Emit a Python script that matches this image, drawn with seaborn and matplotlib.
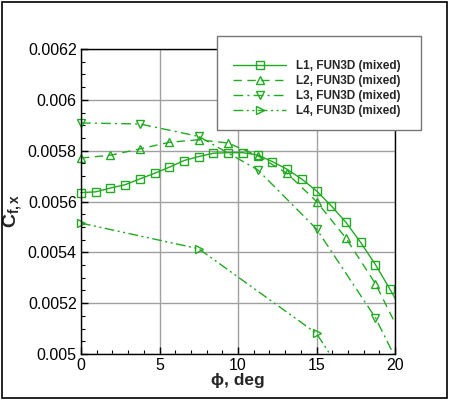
import numpy as np
import pandas as pd
import matplotlib
matplotlib.use("Agg")
import matplotlib.pyplot as plt
from matplotlib.patches import Rectangle
from matplotlib.ticker import FixedLocator, MultipleLocator
import seaborn as sns

# ---------------- data ----------------
series_names = ["L1, FUN3D (mixed)", "L2, FUN3D (mixed)",
                "L3, FUN3D (mixed)", "L4, FUN3D (mixed)"]

l1_phi = [0.0, 0.9375, 1.875, 2.8125, 3.75, 4.6875, 5.625, 6.5625, 7.5, 8.4375,
          9.375, 10.3125, 11.25, 12.1875, 13.125, 14.0625, 15.0, 15.9375, 16.875,
          17.8125, 18.75, 19.6875, 20.625]
l1_cf = [0.005635, 0.005638, 0.005653, 0.005666, 0.005689, 0.005711, 0.005735,
         0.005761, 0.005777, 0.005790, 0.005792, 0.005792, 0.005783, 0.005757,
         0.005727, 0.005688, 0.005642, 0.005583, 0.005518, 0.005439, 0.005352,
         0.005254, 0.005151]

l2_phi = [0.0, 1.875, 3.75, 5.625, 7.5, 9.375, 11.25, 13.125, 15.0, 16.875,
          18.75, 20.625]
l2_cf = [0.005771, 0.005782, 0.005807, 0.005833, 0.005843, 0.005830, 0.005780,
         0.005711, 0.005600, 0.005456, 0.005277, 0.005045]

l3_phi = [0.0, 3.75, 7.5, 11.25, 15.0, 18.75, 20.625]
l3_cf = [0.005909, 0.005905, 0.005856, 0.005725, 0.005492, 0.005143, 0.004910]

l4_phi = [0.0, 7.5, 15.0, 22.5]
l4_cf = [0.005515, 0.005414, 0.005081, 0.004366]

x_ticks = [0, 5, 10, 15, 20]
x_ticklabels = ["0", "5", "10", "15", "20"]
y_ticks = [0.005, 0.0052, 0.0054, 0.0056, 0.0058, 0.006, 0.0062]
y_ticklabels = ["0.005", "0.0052", "0.0054", "0.0056", "0.0058", "0.006", "0.0062"]

# ---------------- styling ----------------
green = "#22aa22"
markers = {series_names[0]: "s", series_names[1]: "^",
           series_names[2]: "v", series_names[3]: ">"}
dashes = {series_names[0]: "",
          series_names[1]: (6, 4),
          series_names[2]: (7, 3, 1.5, 3),
          series_names[3]: (7, 2.5, 1.5, 2.5, 1.5, 2.5)}

frames = []
for name, xs, ys in zip(series_names, [l1_phi, l2_phi, l3_phi, l4_phi],
                        [l1_cf, l2_cf, l3_cf, l4_cf]):
    frames.append(pd.DataFrame({"phi": xs, "cf": ys, "series": name}))
df = pd.concat(frames, ignore_index=True)

sns.set_theme(style="white")
plt.rcParams["font.family"] = ["Liberation Sans", "DejaVu Sans"]
plt.rcParams["mathtext.fontset"] = "custom"
plt.rcParams["mathtext.rm"] = "Liberation Sans"
plt.rcParams["mathtext.bf"] = "Liberation Sans:bold"
plt.rcParams["mathtext.it"] = "Liberation Sans:italic"

fig = plt.figure(figsize=(4.5, 4.0), dpi=100)
ax = fig.add_axes([81 / 450, 1 - 354 / 400, 314 / 450, 305 / 400])

sns.lineplot(data=df, x="phi", y="cf", style="series", style_order=series_names,
             markers=markers, dashes=dashes, color=green, linewidth=1.0,
             markersize=5.5, markerfacecolor="none", markeredgecolor=green,
             markeredgewidth=1.0, legend=False, ax=ax, estimator=None, sort=False)

clip_rect = Rectangle((-0.05, 0.0), 1.05, 1.0, transform=ax.transAxes)
for ln in ax.lines:
    ln.set_clip_path(clip_rect)

ax.set_xlim(0, 20)
ax.set_ylim(0.005, 0.0062)
ax.xaxis.set_major_locator(FixedLocator(x_ticks))
ax.set_xticklabels(x_ticklabels)
ax.xaxis.set_minor_locator(MultipleLocator(1))
ax.yaxis.set_major_locator(FixedLocator(y_ticks))
ax.set_yticklabels(y_ticklabels)
ax.yaxis.set_minor_locator(MultipleLocator(0.00005))

ax.tick_params(axis="both", which="major", direction="in", length=5, width=1,
               color="black", labelsize=11.5, pad=3, labelcolor="black",
               top=False, right=False, bottom=True, left=True)
ax.tick_params(axis="both", which="minor", direction="in", length=3, width=0.8,
               color="black", top=False, right=False, bottom=True, left=True)

ax.grid(True, which="major", color="#a0a0a0", linewidth=1.0)
ax.set_axisbelow(True)
for sp in ax.spines.values():
    sp.set_visible(True)
    sp.set_color("black")
    sp.set_linewidth(1.0)

ax.set_xlabel("\u03d5, deg", fontsize=12.5, fontweight="bold", labelpad=0)
ax.set_ylabel(r"$\mathbf{C_{f,x}}$", fontsize=14, labelpad=1)
ax.yaxis.set_label_coords(-0.18, 0.47)

# legend box and entries
fig.add_artist(Rectangle((217 / 450, 1 - 130 / 400), 204 / 450, 94 / 400,
                         transform=fig.transFigure, facecolor="white",
                         edgecolor="#777777", linewidth=1.0, zorder=4))
leg = fig.legend(handles=ax.lines[:4], labels=series_names, loc="upper left",
                 bbox_to_anchor=(233 / 450, 1 - 60 / 400),
                 bbox_transform=fig.transFigure, frameon=False,
                 prop={"size": 8.5, "weight": "bold"},
                 handlelength=4.5, handletextpad=0.8, labelspacing=0.25,
                 borderpad=0, borderaxespad=0, numpoints=1)
leg.set_zorder(5)

# outer figure border
fig.add_artist(Rectangle((1.5 / 450, 1 - 398 / 400), 445.5 / 450, 396.5 / 400,
                         transform=fig.transFigure, fill=False,
                         edgecolor="black", linewidth=1.2, zorder=6))

fig.savefig("out.png", dpi=100)
